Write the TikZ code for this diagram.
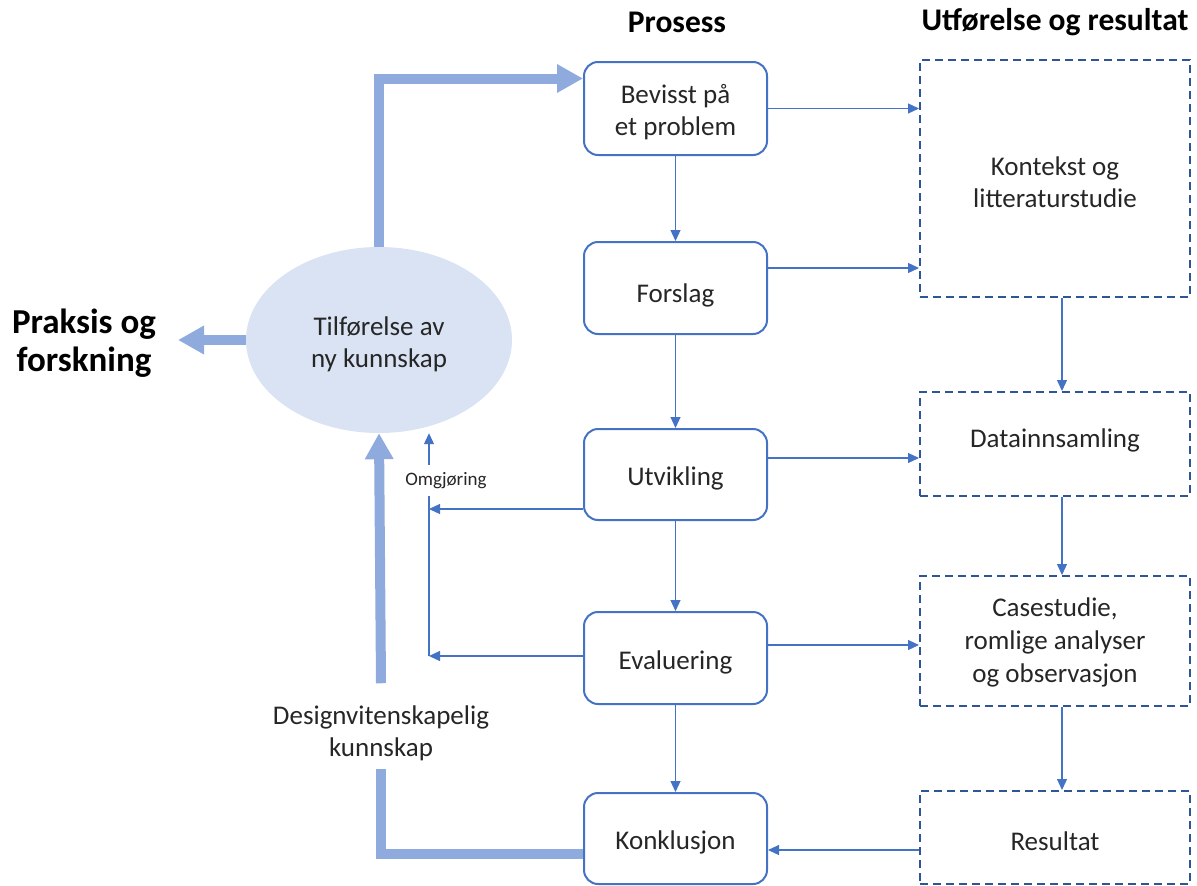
\documentclass[tikz,border=0pt]{standalone}
\usepackage{fontspec}
\setmainfont{Carlito}
\usetikzlibrary{arrows.meta,shapes.geometric}
\definecolor{boxblue}{HTML}{4472C4}
\definecolor{dashblue}{HTML}{2F5597}
\definecolor{fatblue}{HTML}{8FAADC}
\definecolor{ellfill}{HTML}{DAE3F3}
\definecolor{txt}{HTML}{262626}

\begin{document}
\begin{tikzpicture}[x=1pt,y=-1pt,
  every node/.style={text=txt, font=\fontsize{27}{32}\selectfont, align=center, inner sep=0pt},
  procbox/.style={draw=boxblue, line width=2pt, rounded corners=14pt, minimum width=183pt},
  resbox/.style={draw=dashblue, line width=2pt, dash pattern=on 8pt off 5pt, minimum width=270pt},
  boxtext/.style={yshift=-4pt},
  flow/.style={draw=boxblue, line width=1.2pt, -{Triangle[length=11pt,width=10pt]}},
  fatline/.style={draw=fatblue, line width=10pt},
  fatarrow/.style={fatline, -{Triangle[length=26pt,width=27pt]}},
  heading/.style={font=\bfseries\fontsize{31.5}{36}\selectfont, text=black}]

\useasboundingbox (0,0) rectangle (1197,886);

% column headings
\node[heading] (hproc) at (677,22) {Prosess};
\node[heading] (hres) at (1055,22) {Utførelse og resultat};

% process steps
\node[procbox, minimum height=93pt] (p1) at (675.5,108.5) {};
\node[procbox, minimum height=92pt] (p2) at (675.5,288) {};
\node[procbox, minimum height=91pt] (p3) at (675.5,474.5) {};
\node[procbox, minimum height=92pt] (p4) at (675.5,658) {};
\node[procbox, minimum height=91pt] (p5) at (675.5,838.5) {};
\node[boxtext] (p1t) at (p1) {Bevisst på\\et problem};
\node[boxtext, yshift=-3pt] (p2t) at (p2) {Forslag};
\node[boxtext] (p3t) at (p3) {Utvikling};
\node[boxtext] (p4t) at (p4) {Evaluering};
\node[boxtext] (p5t) at (p5) {Konklusjon};

% execution and results
\node[resbox, minimum height=237pt] (r1) at (1055,178.5) {};
\node[resbox, minimum height=104pt] (r2) at (1055,444) {};
\node[resbox, minimum height=130pt] (r3) at (1055,641) {};
\node[resbox, minimum height=93pt] (r4) at (1055,837.5) {};
\node[boxtext] (r1t) at (r1) {Kontekst og\\litteraturstudie};
\node (r2t) at ([yshift=4pt]r2.center) {Datainnsamling};
\node[font=\fontsize{27}{33}\selectfont] (r3t) at ([yshift=-1pt]r3.center) {Casestudie,\\romlige analyser\\og observasjon};
\node[boxtext] (r4t) at (r4) {Resultat};

% knowledge contribution
\node[ellipse, fill=ellfill, minimum width=266pt, minimum height=186pt] (ell) at (379,340) {};
\node[boxtext] (ellt) at (ell) {Tilførelse av\\ny kunnskap};
\node[font=\bfseries\fontsize{35}{38}\selectfont, text=black] (prak) at (84,343) {Praksis og\\forskning};
\node (dk) at (381,733) {Designvitenskapelig\\kunnskap};
\node[font=\fontsize{19}{22}\selectfont] (omg) at (446,481) {Omgjøring};

\coordinate (prakend) at (178,340);
\coordinate (om1) at (429,509);
\coordinate (om2) at (429,656);
\coordinate (omlow) at (429,496);
\coordinate (omhigh) at (429,465);

% process flow
\draw[flow] (p1.south) -- (p2.north);
\draw[flow] (p2.south) -- (p3.north);
\draw[flow] (p3.south) -- (p4.north);
\draw[flow] (p4.south) -- (p5.north);

\draw[flow] (p1.east) -- (r1.west |- p1.east);
\draw[flow] ([yshift=20pt]p2.east) -- ([yshift=20pt]p2.east -| r1.west);
\draw[flow] ([yshift=16.5pt]p3.east) -- ([yshift=16.5pt]p3.east -| r2.west);
\draw[flow] ([yshift=13pt]p4.east) -- ([yshift=13pt]p4.east -| r3.west);
\draw[flow] ([yshift=-12.5pt]r4.west) -- ([yshift=-12.5pt]r4.west -| p5.east);

\draw[flow] ([xshift=7pt]r1.south) -- ([xshift=7pt]r2.north);
\draw[flow] ([xshift=7pt]r2.south) -- ([xshift=7pt]r3.north);
\draw[flow] ([xshift=7pt]r3.south) -- ([xshift=7pt]r4.north);

% revision loop
\draw[flow] ([yshift=-34.5pt]p3.west) -- (om1);
\draw[flow] (p4.west |- om2) -- (om2);
\draw[boxblue, line width=1.2pt] (om2) -- (omlow);
\draw[flow] (omhigh) -- (ell.south -| omhigh);

% knowledge arrows
\draw[fatarrow] (ell.west) -- (prakend);
\draw[fatarrow] (ell.north) |- ([yshift=30pt]p1.west);
\draw[fatline] ([yshift=-15.5pt]p5.west) -| ([yshift=-8pt]dk.south);
\draw[fatarrow] ([yshift=22pt]dk.north) -- (ell.south);

\end{tikzpicture}
\end{document}
